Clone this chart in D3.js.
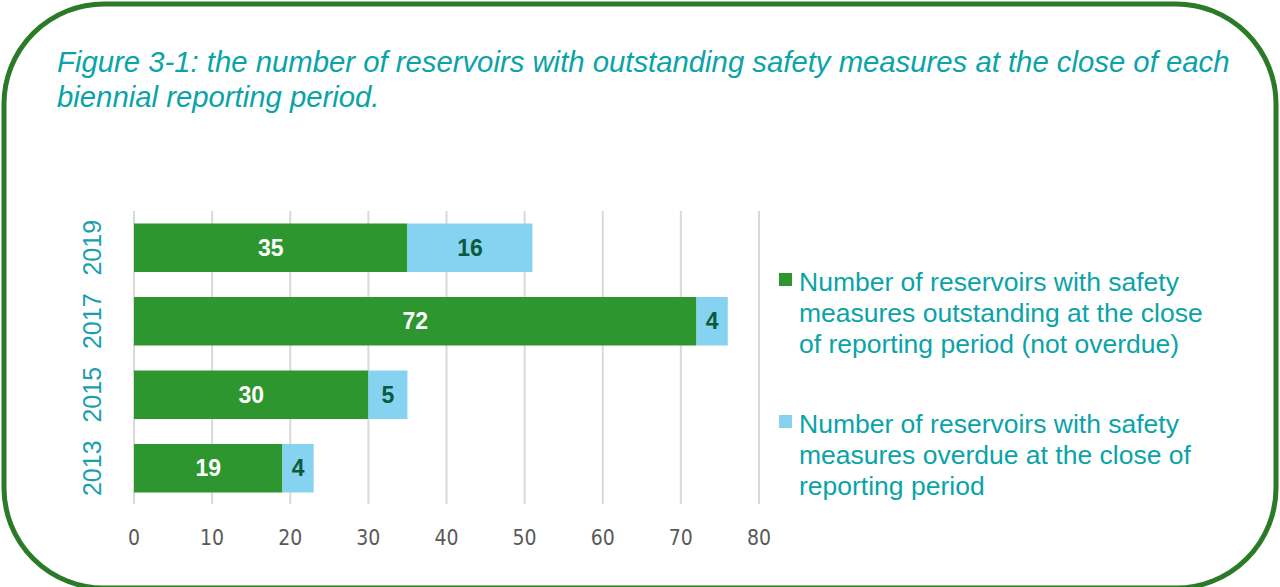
<!DOCTYPE html>
<html>
<head>
<meta charset="utf-8">
<script src="https://cdn.jsdelivr.net/npm/d3@7"></script>
<style>
  body { margin: 0; background: #fff; }
  .grid { stroke: #d9d9d9; stroke-width: 2; }
  .tick-label { font-family: 'Liberation Sans Narrow', 'DejaVu Sans Condensed', sans-serif; font-size: 21px; fill: #595959; }
  .year { font-family: 'Liberation Sans', Arial, sans-serif; font-size: 25px; fill: #1a9fb0; }
  .title { font-family: 'Liberation Sans', Arial, sans-serif; font-style: italic; font-size: 29.3px; fill: #0aa3a8; }
  .legend { font-family: 'Liberation Sans', Arial, sans-serif; font-size: 26.5px; fill: #0aa3a8; }
  .label { font-family: 'Liberation Sans', Arial, sans-serif; font-weight: bold; font-size: 23px; }
</style>
</head>
<body>
<div id="chart"></div>
<script>
// Data
let years = ['2019', '2017', '2015', '2013'];
let outstanding = [35, 72, 30, 19];
let overdue = [16, 4, 5, 4];
let xTicks = [0, 10, 20, 30, 40, 50, 60, 70, 80];
let titleLines = ['Figure 3-1: the number of reservoirs with outstanding safety measures at the close of each',
                  'biennial reporting period.'];
let legendItems = [
    ['Number of reservoirs with safety', 'measures outstanding at the close', 'of reporting period (not overdue)'],
    ['Number of reservoirs with safety', 'measures overdue at the close of', 'reporting period']
];

let greenColor = '#2e962f';
let blueColor = '#86d3f1';

let W = 1280, H = 587;
let svg = d3.select('#chart').append('svg')
    .attr('width', W)
    .attr('height', H);

// Rounded border
svg.append('rect')
    .attr('x', 4).attr('y', 4)
    .attr('width', 1272).attr('height', 584)
    .attr('rx', 100).attr('ry', 100)
    .attr('fill', 'none')
    .attr('stroke', '#2b7a27')
    .attr('stroke-width', 5);

// Title
svg.selectAll('text.title')
    .data(titleLines)
    .enter()
    .append('text')
    .attr('class', 'title')
    .attr('x', 57)
    .attr('y', (d, i) => 72 + i * 35)
    .text(d => d);

// Scales
let scX = d3.scaleLinear().domain([0, 80]).range([134, 759]);
let scY = d3.scaleBand().domain(years).range([211, 505]).paddingInner(0.34).paddingOuter(0.17);

// Gridlines
svg.selectAll('line.grid')
    .data(xTicks)
    .enter()
    .append('line')
    .attr('class', 'grid')
    .attr('x1', d => scX(d))
    .attr('x2', d => scX(d))
    .attr('y1', 211)
    .attr('y2', 504);

// X tick labels
svg.selectAll('text.tick-label')
    .data(xTicks)
    .enter()
    .append('text')
    .attr('class', 'tick-label')
    .attr('x', d => scX(d))
    .attr('y', 545)
    .attr('text-anchor', 'middle')
    .text(d => d);

// Year labels (rotated)
svg.selectAll('text.year')
    .data(years)
    .enter()
    .append('text')
    .attr('class', 'year')
    .attr('text-anchor', 'middle')
    .attr('transform', d => `translate(101,${scY(d) + scY.bandwidth() / 2}) rotate(-90)`)
    .text(d => d);

// Bars
let rows = years.map((y, i) => ({year: y, a: outstanding[i], b: overdue[i]}));

svg.selectAll('rect.green')
    .data(rows)
    .enter()
    .append('rect')
    .attr('x', scX(0))
    .attr('y', d => scY(d.year))
    .attr('width', d => scX(d.a) - scX(0))
    .attr('height', scY.bandwidth())
    .attr('fill', greenColor);

svg.selectAll('rect.blue')
    .data(rows)
    .enter()
    .append('rect')
    .attr('x', d => scX(d.a))
    .attr('y', d => scY(d.year))
    .attr('width', d => scX(d.a + d.b) - scX(d.a))
    .attr('height', scY.bandwidth())
    .attr('fill', blueColor);

// Labels
svg.selectAll('text.la')
    .data(rows)
    .enter()
    .append('text')
    .attr('class', 'label')
    .attr('x', d => scX(d.a / 2))
    .attr('y', d => scY(d.year) + scY.bandwidth() / 2 + 8)
    .attr('text-anchor', 'middle')
    .attr('fill', '#ffffff')
    .text(d => d.a);

svg.selectAll('text.lb')
    .data(rows)
    .enter()
    .append('text')
    .attr('class', 'label')
    .attr('x', d => scX(d.a + d.b / 2))
    .attr('y', d => scY(d.year) + scY.bandwidth() / 2 + 8)
    .attr('text-anchor', 'middle')
    .attr('fill', '#0b5a3c')
    .text(d => d.b);

// Legend
let legColors = [greenColor, blueColor];
legendItems.forEach((lines, i) => {
    let y0 = 291 + i * 142;
    svg.append('rect')
        .attr('x', 779)
        .attr('y', y0 - 18)
        .attr('width', 13)
        .attr('height', 13)
        .attr('fill', legColors[i]);
    lines.forEach((t, j) => {
        svg.append('text')
            .attr('class', 'legend')
            .attr('x', 799)
            .attr('y', y0 + j * 31)
            .text(t);
    });
});
</script>
</body>
</html>
